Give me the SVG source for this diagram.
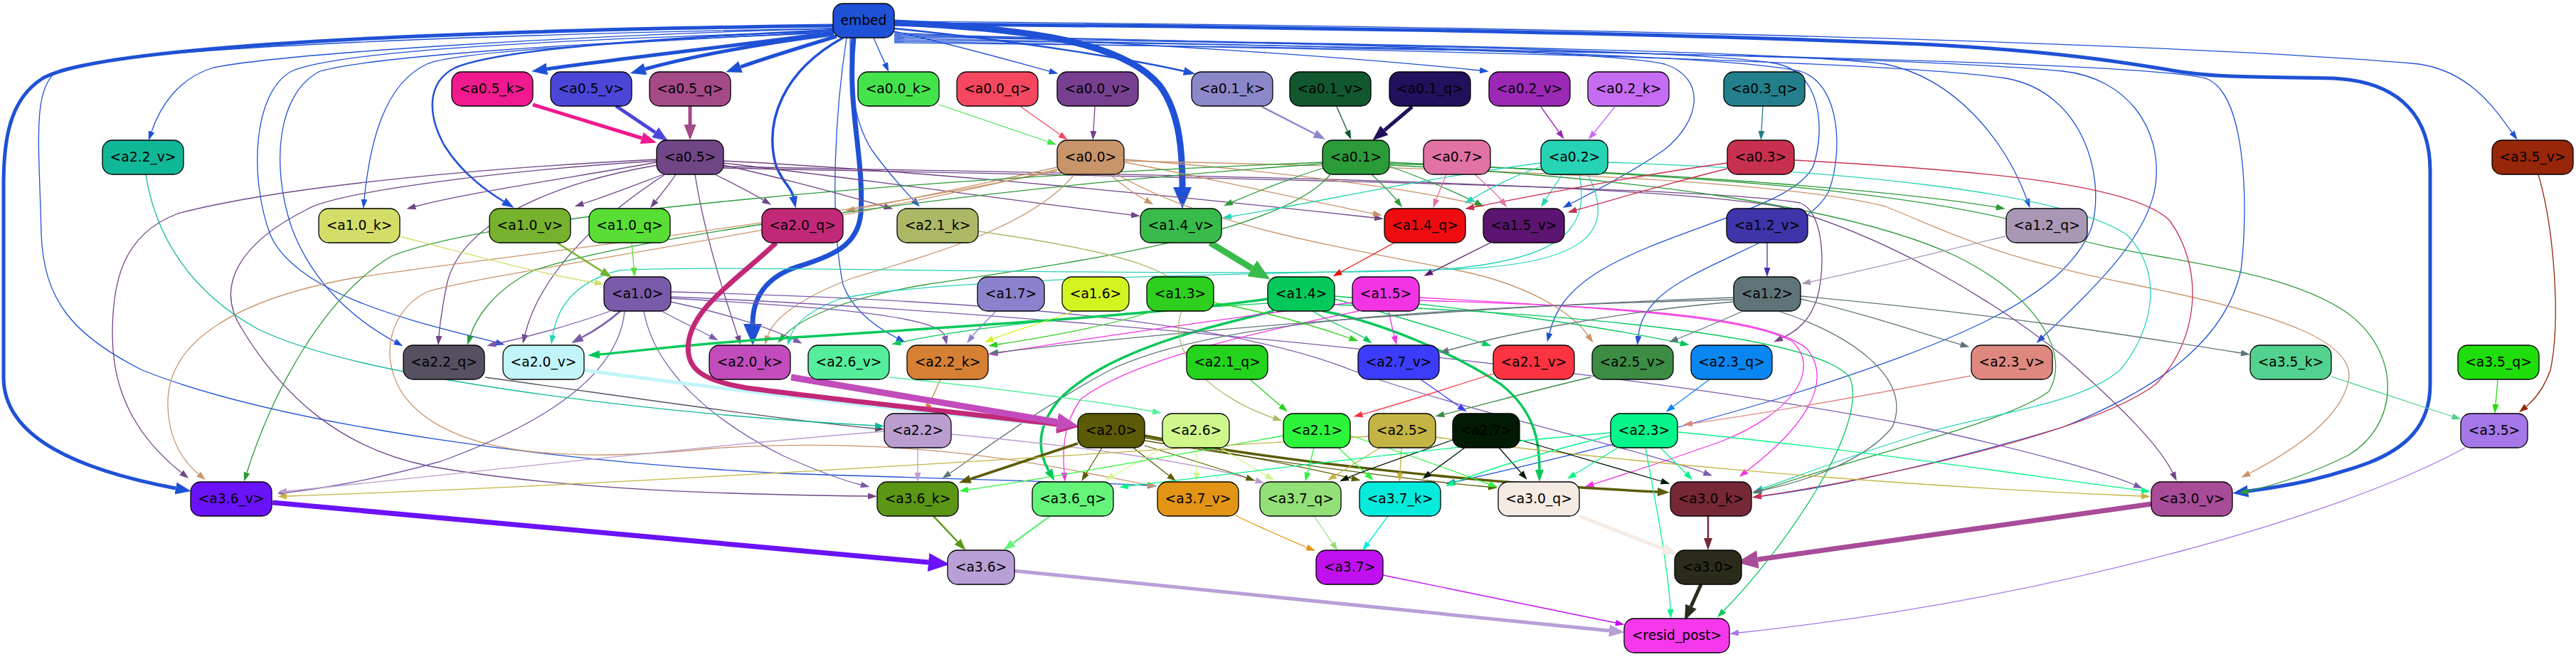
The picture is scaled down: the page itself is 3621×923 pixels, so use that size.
<svg xmlns="http://www.w3.org/2000/svg" xmlns:xlink="http://www.w3.org/1999/xlink" width="3621" height="923" viewBox="0 0 3621 923">
<style>
.nd rect{stroke:#000;stroke-width:1.3}
.nd text{font-family:"DejaVu Sans","Liberation Sans",sans-serif;font-size:18.7px;text-anchor:middle;fill:#000}
#edges path{fill:none}
.w1{stroke-width:1.3}.w2{stroke-width:2.5}.w3{stroke-width:3.5}.w4{stroke-width:5}.w5{stroke-width:7}.w6{stroke-width:9}
.s-emb{stroke:#1f51d6}.s-a05k{stroke:#f0198e}.s-a05v{stroke:#4b46d8}.s-a05q{stroke:#a44a86}.s-a05{stroke:#704686}
.s-a00k{stroke:#44e34c}.s-a00q{stroke:#f5475f}.s-a00v{stroke:#773f90}.s-a00{stroke:#c8946a}
.s-a01k{stroke:#8b87c8}.s-a01v{stroke:#11582e}.s-a01q{stroke:#21105c}.s-a01{stroke:#2b9a38}
.s-a07{stroke:#e072a4}.s-a02v{stroke:#9b29b6}.s-a02k{stroke:#c66cf2}.s-a02{stroke:#27d3b5}
.s-a03q{stroke:#237f8b}.s-a03{stroke:#c7304f}.s-a22v{stroke:#10b898}.s-a35v{stroke:#982609}
.s-a10k{stroke:#d2de68}.s-a10v{stroke:#76b22e}.s-a10q{stroke:#58de35}.s-a20q{stroke:#c22878}
.s-a14v{stroke:#39bb4b}.s-a14q{stroke:#ee0c10}.s-a15v{stroke:#5b1470}.s-a12v{stroke:#4034aa}.s-a12q{stroke:#a898b6}
.s-a10{stroke:#7a5ba9}.s-a17{stroke:#8a82cc}.s-a16{stroke:#d4f420}.s-a13{stroke:#2ecf1e}.s-a14{stroke:#05c85a}
.s-a15{stroke:#f234e4}.s-a12{stroke:#5f7479}.s-a22q{stroke:#575061}.s-a20v{stroke:#c2f5fa}.s-a20k{stroke:#c24cbc}
.s-a26v{stroke:#54ee9c}.s-a22k{stroke:#d68034}.s-a21q{stroke:#24d41c}.s-a27v{stroke:#3c3cfc}.s-a21v{stroke:#fc3442}
.s-a21k{stroke:#adb866}.s-a25v{stroke:#3c8c44}.s-a23q{stroke:#0a86f0}.s-a23v{stroke:#de8880}.s-a35k{stroke:#52d28e}
.s-a35q{stroke:#1fde0c}.s-a22{stroke:#bb9dd0}.s-a20{stroke:#5b5a06}.s-a26{stroke:#cff78c}.s-a21{stroke:#2cf43b}
.s-a25{stroke:#c4b444}.s-a27{stroke:#011a04}.s-a23{stroke:#05f58a}.s-a35{stroke:#a577e8}.s-a36v{stroke:#6a12f8}
.s-a36k{stroke:#5b9614}.s-a36q{stroke:#64f47a}.s-a37v{stroke:#e29414}.s-a37q{stroke:#93e078}.s-a37k{stroke:#05ecdc}
.s-a30q{stroke:#f5ebe3}.s-a30k{stroke:#762836}.s-a30v{stroke:#a84c98}.s-a36{stroke:#b8a0d6}.s-a37{stroke:#c010f0}.s-a30{stroke:#2b2b1c}
</style>
<defs>
<path id="ht" d="M0,0L13,4.5L0,9z"/>
<path id="hm" d="M0,0L17,6L0,12z"/>
<path id="hl" d="M0,0L22,8.5L0,17z"/>
<path id="hx" d="M0,0L30,13L0,26z"/>
<marker id="t-emb" viewBox="0 0 13 9" refY="4.5" markerWidth="13" markerHeight="9" markerUnits="userSpaceOnUse" orient="auto"><use href="#ht" fill="#1f51d6"/></marker>
<marker id="t-a05" viewBox="0 0 13 9" refY="4.5" markerWidth="13" markerHeight="9" markerUnits="userSpaceOnUse" orient="auto"><use href="#ht" fill="#704686"/></marker>
<marker id="t-a10" viewBox="0 0 13 9" refY="4.5" markerWidth="13" markerHeight="9" markerUnits="userSpaceOnUse" orient="auto"><use href="#ht" fill="#7a5ba9"/></marker>
<marker id="t-a00" viewBox="0 0 13 9" refY="4.5" markerWidth="13" markerHeight="9" markerUnits="userSpaceOnUse" orient="auto"><use href="#ht" fill="#c8946a"/></marker>
<marker id="t-a01" viewBox="0 0 13 9" refY="4.5" markerWidth="13" markerHeight="9" markerUnits="userSpaceOnUse" orient="auto"><use href="#ht" fill="#2b9a38"/></marker>
<marker id="t-a02" viewBox="0 0 13 9" refY="4.5" markerWidth="13" markerHeight="9" markerUnits="userSpaceOnUse" orient="auto"><use href="#ht" fill="#27d3b5"/></marker>
<marker id="t-a03" viewBox="0 0 13 9" refY="4.5" markerWidth="13" markerHeight="9" markerUnits="userSpaceOnUse" orient="auto"><use href="#ht" fill="#c7304f"/></marker>
<marker id="t-a07" viewBox="0 0 13 9" refY="4.5" markerWidth="13" markerHeight="9" markerUnits="userSpaceOnUse" orient="auto"><use href="#ht" fill="#e072a4"/></marker>
<marker id="t-a00k" viewBox="0 0 13 9" refY="4.5" markerWidth="13" markerHeight="9" markerUnits="userSpaceOnUse" orient="auto"><use href="#ht" fill="#44e34c"/></marker>
<marker id="t-a00q" viewBox="0 0 13 9" refY="4.5" markerWidth="13" markerHeight="9" markerUnits="userSpaceOnUse" orient="auto"><use href="#ht" fill="#f5475f"/></marker>
<marker id="t-a00v" viewBox="0 0 13 9" refY="4.5" markerWidth="13" markerHeight="9" markerUnits="userSpaceOnUse" orient="auto"><use href="#ht" fill="#773f90"/></marker>
<marker id="t-a01v" viewBox="0 0 13 9" refY="4.5" markerWidth="13" markerHeight="9" markerUnits="userSpaceOnUse" orient="auto"><use href="#ht" fill="#11582e"/></marker>
<marker id="t-a02v" viewBox="0 0 13 9" refY="4.5" markerWidth="13" markerHeight="9" markerUnits="userSpaceOnUse" orient="auto"><use href="#ht" fill="#9b29b6"/></marker>
<marker id="t-a02k" viewBox="0 0 13 9" refY="4.5" markerWidth="13" markerHeight="9" markerUnits="userSpaceOnUse" orient="auto"><use href="#ht" fill="#c66cf2"/></marker>
<marker id="t-a03q" viewBox="0 0 13 9" refY="4.5" markerWidth="13" markerHeight="9" markerUnits="userSpaceOnUse" orient="auto"><use href="#ht" fill="#237f8b"/></marker>
<marker id="t-a10q" viewBox="0 0 13 9" refY="4.5" markerWidth="13" markerHeight="9" markerUnits="userSpaceOnUse" orient="auto"><use href="#ht" fill="#58de35"/></marker>
<marker id="t-a10k" viewBox="0 0 13 9" refY="4.5" markerWidth="13" markerHeight="9" markerUnits="userSpaceOnUse" orient="auto"><use href="#ht" fill="#d2de68"/></marker>
<marker id="t-a14q" viewBox="0 0 13 9" refY="4.5" markerWidth="13" markerHeight="9" markerUnits="userSpaceOnUse" orient="auto"><use href="#ht" fill="#ee0c10"/></marker>
<marker id="t-a15v" viewBox="0 0 13 9" refY="4.5" markerWidth="13" markerHeight="9" markerUnits="userSpaceOnUse" orient="auto"><use href="#ht" fill="#5b1470"/></marker>
<marker id="t-a12v" viewBox="0 0 13 9" refY="4.5" markerWidth="13" markerHeight="9" markerUnits="userSpaceOnUse" orient="auto"><use href="#ht" fill="#4034aa"/></marker>
<marker id="t-a12q" viewBox="0 0 13 9" refY="4.5" markerWidth="13" markerHeight="9" markerUnits="userSpaceOnUse" orient="auto"><use href="#ht" fill="#a898b6"/></marker>
<marker id="t-a14" viewBox="0 0 13 9" refY="4.5" markerWidth="13" markerHeight="9" markerUnits="userSpaceOnUse" orient="auto"><use href="#ht" fill="#05c85a"/></marker>
<marker id="t-a15" viewBox="0 0 13 9" refY="4.5" markerWidth="13" markerHeight="9" markerUnits="userSpaceOnUse" orient="auto"><use href="#ht" fill="#f234e4"/></marker>
<marker id="t-a12" viewBox="0 0 13 9" refY="4.5" markerWidth="13" markerHeight="9" markerUnits="userSpaceOnUse" orient="auto"><use href="#ht" fill="#5f7479"/></marker>
<marker id="t-a17" viewBox="0 0 13 9" refY="4.5" markerWidth="13" markerHeight="9" markerUnits="userSpaceOnUse" orient="auto"><use href="#ht" fill="#8a82cc"/></marker>
<marker id="t-a16" viewBox="0 0 13 9" refY="4.5" markerWidth="13" markerHeight="9" markerUnits="userSpaceOnUse" orient="auto"><use href="#ht" fill="#d4f420"/></marker>
<marker id="t-a13" viewBox="0 0 13 9" refY="4.5" markerWidth="13" markerHeight="9" markerUnits="userSpaceOnUse" orient="auto"><use href="#ht" fill="#2ecf1e"/></marker>
<marker id="t-a22k" viewBox="0 0 13 9" refY="4.5" markerWidth="13" markerHeight="9" markerUnits="userSpaceOnUse" orient="auto"><use href="#ht" fill="#d68034"/></marker>
<marker id="t-a22q" viewBox="0 0 13 9" refY="4.5" markerWidth="13" markerHeight="9" markerUnits="userSpaceOnUse" orient="auto"><use href="#ht" fill="#575061"/></marker>
<marker id="t-a22v" viewBox="0 0 13 9" refY="4.5" markerWidth="13" markerHeight="9" markerUnits="userSpaceOnUse" orient="auto"><use href="#ht" fill="#10b898"/></marker>
<marker id="t-a26v" viewBox="0 0 13 9" refY="4.5" markerWidth="13" markerHeight="9" markerUnits="userSpaceOnUse" orient="auto"><use href="#ht" fill="#54ee9c"/></marker>
<marker id="t-a21q" viewBox="0 0 13 9" refY="4.5" markerWidth="13" markerHeight="9" markerUnits="userSpaceOnUse" orient="auto"><use href="#ht" fill="#24d41c"/></marker>
<marker id="t-a21v" viewBox="0 0 13 9" refY="4.5" markerWidth="13" markerHeight="9" markerUnits="userSpaceOnUse" orient="auto"><use href="#ht" fill="#fc3442"/></marker>
<marker id="t-a21k" viewBox="0 0 13 9" refY="4.5" markerWidth="13" markerHeight="9" markerUnits="userSpaceOnUse" orient="auto"><use href="#ht" fill="#adb866"/></marker>
<marker id="t-a25v" viewBox="0 0 13 9" refY="4.5" markerWidth="13" markerHeight="9" markerUnits="userSpaceOnUse" orient="auto"><use href="#ht" fill="#3c8c44"/></marker>
<marker id="t-a27v" viewBox="0 0 13 9" refY="4.5" markerWidth="13" markerHeight="9" markerUnits="userSpaceOnUse" orient="auto"><use href="#ht" fill="#3c3cfc"/></marker>
<marker id="t-a23q" viewBox="0 0 13 9" refY="4.5" markerWidth="13" markerHeight="9" markerUnits="userSpaceOnUse" orient="auto"><use href="#ht" fill="#0a86f0"/></marker>
<marker id="t-a23v" viewBox="0 0 13 9" refY="4.5" markerWidth="13" markerHeight="9" markerUnits="userSpaceOnUse" orient="auto"><use href="#ht" fill="#de8880"/></marker>
<marker id="t-a35k" viewBox="0 0 13 9" refY="4.5" markerWidth="13" markerHeight="9" markerUnits="userSpaceOnUse" orient="auto"><use href="#ht" fill="#52d28e"/></marker>
<marker id="t-a35q" viewBox="0 0 13 9" refY="4.5" markerWidth="13" markerHeight="9" markerUnits="userSpaceOnUse" orient="auto"><use href="#ht" fill="#1fde0c"/></marker>
<marker id="t-a35v" viewBox="0 0 13 9" refY="4.5" markerWidth="13" markerHeight="9" markerUnits="userSpaceOnUse" orient="auto"><use href="#ht" fill="#982609"/></marker>
<marker id="t-a22" viewBox="0 0 13 9" refY="4.5" markerWidth="13" markerHeight="9" markerUnits="userSpaceOnUse" orient="auto"><use href="#ht" fill="#bb9dd0"/></marker>
<marker id="t-a20" viewBox="0 0 13 9" refY="4.5" markerWidth="13" markerHeight="9" markerUnits="userSpaceOnUse" orient="auto"><use href="#ht" fill="#5b5a06"/></marker>
<marker id="t-a26" viewBox="0 0 13 9" refY="4.5" markerWidth="13" markerHeight="9" markerUnits="userSpaceOnUse" orient="auto"><use href="#ht" fill="#cff78c"/></marker>
<marker id="t-a21" viewBox="0 0 13 9" refY="4.5" markerWidth="13" markerHeight="9" markerUnits="userSpaceOnUse" orient="auto"><use href="#ht" fill="#2cf43b"/></marker>
<marker id="t-a25" viewBox="0 0 13 9" refY="4.5" markerWidth="13" markerHeight="9" markerUnits="userSpaceOnUse" orient="auto"><use href="#ht" fill="#c4b444"/></marker>
<marker id="t-a27" viewBox="0 0 13 9" refY="4.5" markerWidth="13" markerHeight="9" markerUnits="userSpaceOnUse" orient="auto"><use href="#ht" fill="#011a04"/></marker>
<marker id="t-a23" viewBox="0 0 13 9" refY="4.5" markerWidth="13" markerHeight="9" markerUnits="userSpaceOnUse" orient="auto"><use href="#ht" fill="#05f58a"/></marker>
<marker id="t-a37v" viewBox="0 0 13 9" refY="4.5" markerWidth="13" markerHeight="9" markerUnits="userSpaceOnUse" orient="auto"><use href="#ht" fill="#e29414"/></marker>
<marker id="t-a37q" viewBox="0 0 13 9" refY="4.5" markerWidth="13" markerHeight="9" markerUnits="userSpaceOnUse" orient="auto"><use href="#ht" fill="#93e078"/></marker>
<marker id="t-a37k" viewBox="0 0 13 9" refY="4.5" markerWidth="13" markerHeight="9" markerUnits="userSpaceOnUse" orient="auto"><use href="#ht" fill="#05ecdc"/></marker>
<marker id="t-a37" viewBox="0 0 13 9" refY="4.5" markerWidth="13" markerHeight="9" markerUnits="userSpaceOnUse" orient="auto"><use href="#ht" fill="#c010f0"/></marker>
<marker id="t-a35" viewBox="0 0 13 9" refY="4.5" markerWidth="13" markerHeight="9" markerUnits="userSpaceOnUse" orient="auto"><use href="#ht" fill="#a577e8"/></marker>
<marker id="m-emb" viewBox="0 0 17 12" refY="6" markerWidth="17" markerHeight="12" markerUnits="userSpaceOnUse" orient="auto"><use href="#hm" fill="#1f51d6"/></marker>
<marker id="m-a01k" viewBox="0 0 17 12" refY="6" markerWidth="17" markerHeight="12" markerUnits="userSpaceOnUse" orient="auto"><use href="#hm" fill="#8b87c8"/></marker>
<marker id="m-a10" viewBox="0 0 17 12" refY="6" markerWidth="17" markerHeight="12" markerUnits="userSpaceOnUse" orient="auto"><use href="#hm" fill="#7a5ba9"/></marker>
<marker id="m-a10v" viewBox="0 0 17 12" refY="6" markerWidth="17" markerHeight="12" markerUnits="userSpaceOnUse" orient="auto"><use href="#hm" fill="#76b22e"/></marker>
<marker id="m-a14" viewBox="0 0 17 12" refY="6" markerWidth="17" markerHeight="12" markerUnits="userSpaceOnUse" orient="auto"><use href="#hm" fill="#05c85a"/></marker>
<marker id="m-a20" viewBox="0 0 17 12" refY="6" markerWidth="17" markerHeight="12" markerUnits="userSpaceOnUse" orient="auto"><use href="#hm" fill="#5b5a06"/></marker>
<marker id="m-a36k" viewBox="0 0 17 12" refY="6" markerWidth="17" markerHeight="12" markerUnits="userSpaceOnUse" orient="auto"><use href="#hm" fill="#5b9614"/></marker>
<marker id="m-a36q" viewBox="0 0 17 12" refY="6" markerWidth="17" markerHeight="12" markerUnits="userSpaceOnUse" orient="auto"><use href="#hm" fill="#64f47a"/></marker>
<marker id="m-a30k" viewBox="0 0 17 12" refY="6" markerWidth="17" markerHeight="12" markerUnits="userSpaceOnUse" orient="auto"><use href="#hm" fill="#762836"/></marker>
<marker id="l-emb" viewBox="0 0 22 17" refY="8.5" markerWidth="22" markerHeight="17" markerUnits="userSpaceOnUse" orient="auto"><use href="#hl" fill="#1f51d6"/></marker>
<marker id="l-a05k" viewBox="0 0 22 17" refY="8.5" markerWidth="22" markerHeight="17" markerUnits="userSpaceOnUse" orient="auto"><use href="#hl" fill="#f0198e"/></marker>
<marker id="l-a05v" viewBox="0 0 22 17" refY="8.5" markerWidth="22" markerHeight="17" markerUnits="userSpaceOnUse" orient="auto"><use href="#hl" fill="#4b46d8"/></marker>
<marker id="l-a05q" viewBox="0 0 22 17" refY="8.5" markerWidth="22" markerHeight="17" markerUnits="userSpaceOnUse" orient="auto"><use href="#hl" fill="#a44a86"/></marker>
<marker id="l-a01q" viewBox="0 0 22 17" refY="8.5" markerWidth="22" markerHeight="17" markerUnits="userSpaceOnUse" orient="auto"><use href="#hl" fill="#21105c"/></marker>
<marker id="l-a20v" viewBox="0 0 22 17" refY="8.5" markerWidth="22" markerHeight="17" markerUnits="userSpaceOnUse" orient="auto"><use href="#hl" fill="#c2f5fa"/></marker>
<marker id="l-a30q" viewBox="0 0 22 17" refY="8.5" markerWidth="22" markerHeight="17" markerUnits="userSpaceOnUse" orient="auto"><use href="#hl" fill="#f5ebe3"/></marker>
<marker id="l-a36" viewBox="0 0 22 17" refY="8.5" markerWidth="22" markerHeight="17" markerUnits="userSpaceOnUse" orient="auto"><use href="#hl" fill="#b8a0d6"/></marker>
<marker id="l-a30" viewBox="0 0 22 17" refY="8.5" markerWidth="22" markerHeight="17" markerUnits="userSpaceOnUse" orient="auto"><use href="#hl" fill="#2b2b1c"/></marker>
<marker id="x-emb" viewBox="0 0 30 26" refY="13" markerWidth="30" markerHeight="26" markerUnits="userSpaceOnUse" orient="auto"><use href="#hx" fill="#1f51d6"/></marker>
<marker id="x-a14v" viewBox="0 0 30 26" refY="13" markerWidth="30" markerHeight="26" markerUnits="userSpaceOnUse" orient="auto"><use href="#hx" fill="#39bb4b"/></marker>
<marker id="x-a20k" viewBox="0 0 30 26" refY="13" markerWidth="30" markerHeight="26" markerUnits="userSpaceOnUse" orient="auto"><use href="#hx" fill="#c24cbc"/></marker>
<marker id="x-a20q" viewBox="0 0 30 26" refY="13" markerWidth="30" markerHeight="26" markerUnits="userSpaceOnUse" orient="auto"><use href="#hx" fill="#c22878"/></marker>
<marker id="x-a36v" viewBox="0 0 30 26" refY="13" markerWidth="30" markerHeight="26" markerUnits="userSpaceOnUse" orient="auto"><use href="#hx" fill="#6a12f8"/></marker>
<marker id="x-a30v" viewBox="0 0 30 26" refY="13" markerWidth="30" markerHeight="26" markerUnits="userSpaceOnUse" orient="auto"><use href="#hx" fill="#a84c98"/></marker>
</defs>
<rect width="3621" height="923" fill="#fff"/>
<g id="edges">
<path class="s-emb w4" marker-end="url(#l-emb)" d="M1171,36 C700,42 150,60 60,110 C12,140 5,200 5,260 L5,530 C5,615 110,660 247,686"/>
<path class="s-emb w4" marker-end="url(#l-emb)" d="M1257,34 C1700,36 2300,45 2700,62 C2900,72 3000,90 3060,100 C3120,110 3200,108 3280,110 C3380,115 3416,170 3416,240 L3416,540 C3416,600 3380,630 3330,650 C3270,672 3220,682 3160,690"/>
<path class="s-emb w4" marker-end="url(#l-emb)" d="M1172,46 C1000,68 850,85 769,97"/>
<path class="s-emb w4" marker-end="url(#l-emb)" d="M1172,48 C1060,62 960,82 907,97"/>
<path class="s-emb w4" marker-end="url(#l-emb)" d="M1176,51 C1120,68 1075,82 1041,94"/>
<path class="s-emb w3" marker-end="url(#m-emb)" d="M1185,53 C1100,100 1075,170 1090,230 C1098,255 1112,262 1115,276"/>
<path class="s-emb w5" marker-end="url(#x-emb)" d="M1200,53 C1190,150 1215,220 1210,300 C1206,345 1170,360 1120,375 C1075,390 1058,420 1058,455"/>
<path class="s-emb w6" marker-end="url(#x-emb)" d="M1257,32 C1450,40 1580,60 1630,120 C1660,160 1662,220 1662,263"/>
<path class="s-emb w2" marker-end="url(#m-emb)" d="M1257,40 C1450,60 1600,85 1664,100"/>
<path class="s-emb w2" marker-end="url(#m-emb)" d="M1171,42 C900,55 700,70 640,95 C600,115 600,160 625,205 C650,245 690,272 708,283"/>
<path class="s-emb w1" marker-end="url(#t-emb)" d="M1171,44 C900,60 650,70 600,90 C540,118 520,200 512,280"/>
<path class="s-emb w1" marker-end="url(#t-emb)" d="M1171,40 C800,50 400,75 300,95 C250,110 225,150 213,185"/>
<path class="s-emb w1" marker-end="url(#t-emb)" d="M1228,53 C1235,70 1240,80 1244,89"/>
<path class="s-emb w1" marker-end="url(#t-emb)" d="M1257,44 C1350,65 1420,85 1475,100"/>
<path class="s-emb w1" marker-end="url(#t-emb)" d="M1257,46 C1600,60 1900,80 2080,99"/>
<path class="s-emb w1" marker-end="url(#t-emb)" d="M1257,48 C1800,60 2250,70 2340,90 C2400,110 2390,170 2340,210 C2290,245 2235,272 2208,286"/>
<path class="s-emb w1" marker-end="url(#t-emb)" d="M1257,50 C1800,60 2500,70 2650,90 C2750,110 2820,200 2849,280"/>
<path class="s-emb w1" marker-end="url(#t-emb)" d="M1257,30 C2000,35 3000,55 3400,90 C3470,100 3505,150 3531,186"/>
<path class="s-emb w1" marker-end="url(#t-emb)" d="M1171,46 C800,60 520,80 450,100 C390,130 380,230 410,320 C440,400 500,450 555,480"/>
<path class="s-emb w1" marker-end="url(#t-emb)" d="M1171,44 C800,55 480,70 410,100 C355,130 350,250 380,330 C420,420 610,458 697,481"/>
<path class="s-emb w1" marker-end="url(#t-emb)" d="M1171,40 C600,50 150,70 80,100 C45,125 55,200 58,330 C62,420 100,470 200,520 C400,600 800,650 1100,665 C1400,675 1550,678 1613,682"/>
<path class="s-emb w1" marker-end="url(#t-emb)" d="M1195,53 C1195,120 1200,170 1225,210 C1250,245 1272,268 1284,281"/>
<path class="s-emb w1" marker-end="url(#t-emb)" d="M1190,53 C1175,150 1165,300 1185,400 C1200,440 1238,463 1261,475"/>
<path class="s-emb w1" marker-end="url(#t-emb)" d="M1257,52 C1900,62 2400,70 2500,90 C2560,105 2565,180 2550,230 C2530,290 2350,320 2250,380 C2200,410 2185,440 2178,468"/>
<path class="s-emb w1" marker-end="url(#t-emb)" d="M1257,54 C1900,65 2420,75 2530,100 C2590,118 2590,220 2570,270 C2540,330 2380,370 2330,420 C2310,440 2305,455 2303,472"/>
<path class="s-emb w1" marker-end="url(#t-emb)" d="M1257,56 C2000,66 2700,80 2900,100 C2990,110 3040,180 3030,260 C3020,330 2950,400 2872,473"/>
<path class="s-emb w1" marker-end="url(#t-emb)" d="M1257,58 C2000,70 2650,85 2820,110 C2930,130 2960,250 2940,320 C2900,420 2750,480 2500,560 C2300,620 2120,660 2045,677"/>
<path class="s-emb w1" marker-end="url(#t-emb)" d="M1257,60 C2200,70 3000,85 3100,110 C3160,130 3160,300 3150,380 C3130,470 3050,540 2900,600 C2700,660 2550,688 2476,697"/>
<path class="s-a05k w4" marker-end="url(#l-a05k)" d="M749,147 L902,194"/>
<path class="s-a05v w4" marker-end="url(#l-a05v)" d="M866,149 L921,186"/>
<path class="s-a05q w4" marker-end="url(#l-a05q)" d="M970,149 L970,175"/>
<path class="s-a00k w1" marker-end="url(#t-a00k)" d="M1320,147 L1473,199"/>
<path class="s-a00q w1" marker-end="url(#t-a00q)" d="M1435,150 L1490,189"/>
<path class="s-a00v w1" marker-end="url(#t-a00v)" d="M1539,150 L1537,184"/>
<path class="s-a01k w2" marker-end="url(#m-a01k)" d="M1774,150 L1848,188"/>
<path class="s-a01v w1" marker-end="url(#t-a01v)" d="M1879,150 L1894,184"/>
<path class="s-a01q w4" marker-end="url(#l-a01q)" d="M1985,150 L1946,183"/>
<path class="s-a02v w1" marker-end="url(#t-a02v)" d="M2166,150 L2191,185"/>
<path class="s-a02k w1" marker-end="url(#t-a02k)" d="M2270,150 L2241,186"/>
<path class="s-a03q w1" marker-end="url(#t-a03q)" d="M2478,149 L2476,184"/>
<path class="s-a05 w1" marker-end="url(#t-a05)" d="M923,228 C800,250 650,272 584,290"/>
<path class="s-a05 w1" marker-end="url(#t-a05)" d="M935,244 C880,265 845,278 820,286"/>
<path class="s-a05 w1" marker-end="url(#t-a05)" d="M950,245 C940,260 930,272 922,282"/>
<path class="s-a05 w1" marker-end="url(#t-a05)" d="M1005,245 C1035,260 1060,273 1073,281"/>
<path class="s-a05 w1" marker-end="url(#t-a05)" d="M1017,232 C1100,250 1190,275 1243,290"/>
<path class="s-a05 w1" marker-end="url(#t-a05)" d="M1017,229 C1200,250 1450,285 1590,302"/>
<path class="s-a05 w1" marker-end="url(#t-a05)" d="M1017,226 C1300,240 1700,280 1932,306"/>
<path class="s-a05 w1" marker-end="url(#t-a05)" d="M924,232 C760,260 645,320 628,400 C620,440 618,460 617,472"/>
<path class="s-a05 w1" marker-end="url(#t-a05)" d="M923,224 C700,235 400,260 250,300 C170,330 158,400 158,470 C158,560 200,620 255,664"/>
<path class="s-a05 w1" marker-end="url(#t-a05)" d="M923,226 C700,240 470,270 430,295 C340,340 300,400 340,462 C400,560 480,630 604,655 C800,690 1050,695 1220,697"/>
<path class="s-a05 w1" marker-end="url(#t-a05)" d="M977,245 C990,330 1020,420 1037,472"/>
<path class="s-a05 w1" marker-end="url(#t-a05)" d="M1017,234 C1600,245 2300,255 2500,290 C2650,330 2800,420 2900,500 C2980,570 3035,625 3054,664"/>
<path class="s-a05 w1" marker-end="url(#t-a05)" d="M1017,236 C1700,250 2400,262 2530,285 C2570,300 2565,400 2550,430 C2540,455 2520,468 2505,475"/>
<path class="s-a05 w1" marker-end="url(#t-a05)" d="M935,245 C850,300 760,380 738,470"/>
<path class="s-a00 w1" marker-end="url(#t-a00)" d="M1486,235 C1350,265 1255,285 1201,294"/>
<path class="s-a00 w1" marker-end="url(#t-a00)" d="M1560,245 C1580,262 1598,274 1610,281"/>
<path class="s-a00 w1" marker-end="url(#t-a00)" d="M1581,228 C1700,250 1850,285 1930,300"/>
<path class="s-a00 w1" marker-end="url(#t-a00)" d="M1581,224 C1800,240 2000,268 2074,287"/>
<path class="s-a00 w1" marker-end="url(#t-a00)" d="M1510,245 C1450,320 1300,360 1200,390 C1120,420 1086,450 1079,472"/>
<path class="s-a00 w1" marker-end="url(#t-a00)" d="M1570,245 C1700,320 1900,350 2050,380 C2150,400 2210,440 2232,471"/>
<path class="s-a00 w1" marker-end="url(#t-a00)" d="M1486,240 C1100,320 700,360 500,390 C330,420 240,480 236,560 C234,620 262,652 279,666"/>
<path class="s-a00 w1" marker-end="url(#t-a00)" d="M1486,238 C1100,330 700,380 600,410 C540,440 530,520 580,570 C650,640 800,650 1000,630 C1300,610 1500,660 1613,681"/>
<path class="s-a00 w1" marker-end="url(#t-a00)" d="M1581,226 C2000,235 2500,250 2650,290 C2750,330 2800,360 3000,400 C3200,440 3320,480 3300,540 C3285,595 3210,640 3162,665"/>
<path class="s-a01 w1" marker-end="url(#t-a01)" d="M1860,236 C1800,255 1758,273 1732,284"/>
<path class="s-a01 w1" marker-end="url(#t-a01)" d="M1928,245 C1944,260 1956,272 1963,281"/>
<path class="s-a01 w1" marker-end="url(#t-a01)" d="M1954,234 C2000,250 2050,272 2074,284"/>
<path class="s-a01 w1" marker-end="url(#t-a01)" d="M1954,230 C2300,240 2650,265 2806,291"/>
<path class="s-a01 w1" marker-end="url(#t-a01)" d="M1860,230 C1400,262 900,330 750,380 C690,410 668,450 661,472"/>
<path class="s-a01 w1" marker-end="url(#t-a01)" d="M1860,228 C1300,250 700,300 550,360 C450,420 380,560 347,664"/>
<path class="s-a01 w1" marker-end="url(#t-a01)" d="M1870,245 C1800,330 1500,370 1300,400 C1180,420 1122,450 1102,472"/>
<path class="s-a01 w1" marker-end="url(#t-a01)" d="M1954,228 C2300,245 2700,260 2900,330 C3000,365 3200,370 3300,440 C3380,500 3370,600 3300,640 C3240,670 3190,683 3160,690"/>
<path class="s-a01 w1" marker-end="url(#t-a01)" d="M1954,232 C2300,250 2600,290 2750,360 C2870,420 2910,500 2880,550 C2820,595 2600,645 2476,689"/>
<path class="s-a02 w1" marker-end="url(#t-a02)" d="M2196,245 C2186,260 2178,272 2173,280"/>
<path class="s-a02 w1" marker-end="url(#t-a02)" d="M2166,234 C2120,250 2088,268 2070,279"/>
<path class="s-a02 w1" marker-end="url(#t-a02)" d="M2166,229 C2000,250 1850,285 1731,304"/>
<path class="s-a02 w1" marker-end="url(#t-a02)" d="M2220,245 C2235,320 2200,370 2000,380 C1600,390 1000,370 870,380 C800,398 782,440 777,471"/>
<path class="s-a02 w1" marker-end="url(#t-a02)" d="M2232,245 C2270,320 2240,370 2050,378 C1700,386 1300,392 1180,420 C1130,440 1116,458 1111,473"/>
<path class="s-a02 w1" marker-end="url(#t-a02)" d="M2260,228 C2600,240 2900,270 2990,330 C3040,380 3030,460 2980,520 C2920,570 2800,580 2700,610 C2600,640 2520,672 2478,686"/>
<path class="s-a03 w1" marker-end="url(#t-a03)" d="M2428,229 C2300,246 2150,276 2072,291"/>
<path class="s-a03 w1" marker-end="url(#t-a03)" d="M2428,237 C2350,256 2270,280 2216,295"/>
<path class="s-a03 w1" marker-end="url(#t-a03)" d="M2522,225 C2800,240 3000,260 3050,310 C3100,380 3090,480 3030,540 C2950,600 2700,662 2476,697"/>
<path class="s-a07 w1" marker-end="url(#t-a07)" d="M2033,245 C2027,260 2022,272 2019,280"/>
<path class="s-a07 w1" marker-end="url(#t-a07)" d="M2073,245 C2090,260 2103,272 2110,281"/>
<path class="s-a10v w2" marker-end="url(#m-a10v)" d="M783,341 L846,381"/>
<path class="s-a10q w1" marker-end="url(#t-a10q)" d="M888,341 L891,376"/>
<path class="s-a10k w1" marker-end="url(#t-a10k)" d="M562,332 C650,355 760,385 836,397"/>
<path class="s-a14v w6" marker-end="url(#x-a14v)" d="M1701,341 L1760,377"/>
<path class="s-a14q w1" marker-end="url(#t-a14q)" d="M1960,341 L1885,382"/>
<path class="s-a15v w1" marker-end="url(#t-a15v)" d="M2095,341 L2013,382"/>
<path class="s-a12v w1" marker-end="url(#t-a12v)" d="M2484,341 L2484,376"/>
<path class="s-a12q w1" marker-end="url(#t-a12q)" d="M2819,332 C2700,360 2600,385 2545,396"/>
<path class="s-a10 w1" marker-end="url(#t-a10)" d="M858,437 C800,458 735,475 697,483"/>
<path class="s-a10 w2" marker-end="url(#m-a10)" d="M872,437 C855,452 835,465 818,474"/>
<path class="s-a10 w1" marker-end="url(#t-a10)" d="M930,437 C960,453 985,465 998,472"/>
<path class="s-a10 w1" marker-end="url(#t-a10)" d="M943,424 C1020,440 1085,462 1116,477"/>
<path class="s-a10 w1" marker-end="url(#t-a10)" d="M943,419 C1100,428 1320,440 1328,472"/>
<path class="s-a10 w1" marker-end="url(#t-a10)" d="M878,437 C870,520 780,590 620,648 C520,676 440,688 403,692"/>
<path class="s-a10 w1" marker-end="url(#t-a10)" d="M905,437 C920,520 1000,590 1100,640 C1150,662 1185,675 1210,681"/>
<path class="s-a10 w1" marker-end="url(#t-a10)" d="M943,410 C1300,420 1700,440 1900,520 C2050,575 2300,630 2395,664"/>
<path class="s-a10 w1" marker-end="url(#t-a10)" d="M943,417 C1500,440 2300,520 2700,600 C2880,640 2970,668 3000,681"/>
<path class="s-a14 w3" marker-end="url(#m-a14)" d="M1782,420 C1600,445 1300,462 1100,475 C950,485 880,495 843,498"/>
<path class="s-a14 w3" marker-end="url(#m-a14)" d="M1790,437 C1700,460 1560,490 1490,560 C1452,605 1462,640 1474,661"/>
<path class="s-a14 w3" marker-end="url(#m-a14)" d="M1860,437 C1950,455 2050,500 2110,540 C2160,580 2164,625 2164,660"/>
<path class="s-a14 w1" marker-end="url(#t-a14)" d="M1782,426 C1550,440 1360,460 1266,481"/>
<path class="s-a14 w1" marker-end="url(#t-a14)" d="M1845,437 C1868,452 1905,466 1918,475"/>
<path class="s-a14 w1" marker-end="url(#t-a14)" d="M1876,420 C1950,440 2040,468 2084,482"/>
<path class="s-a14 w1" marker-end="url(#t-a14)" d="M1876,416 C2050,430 2250,458 2362,482"/>
<path class="s-a14 w1" marker-end="url(#t-a14)" d="M1876,428 C2200,440 2550,470 2600,530 C2630,600 2500,780 2423,858"/>
<path class="s-a15 w1" marker-end="url(#t-a15)" d="M1952,437 C1955,452 1958,464 1960,472"/>
<path class="s-a15 w1" marker-end="url(#t-a15)" d="M1901,425 C1700,450 1500,480 1402,496"/>
<path class="s-a15 w1" marker-end="url(#t-a15)" d="M1910,437 C1800,460 1600,500 1520,560 C1492,598 1494,640 1496,664"/>
<path class="s-a15 w1" marker-end="url(#t-a15)" d="M1995,418 C2200,430 2450,440 2520,480 C2560,520 2520,580 2420,620 C2330,652 2272,670 2240,680"/>
<path class="s-a15 w1" marker-end="url(#t-a15)" d="M1995,422 C2250,430 2480,440 2540,490 C2580,540 2530,605 2455,662"/>
<path class="s-a12 w1" marker-end="url(#t-a12)" d="M2436,418 C2100,430 1700,460 1403,495"/>
<path class="s-a12 w1" marker-end="url(#t-a12)" d="M2436,421 C2000,432 1700,452 1560,520 C1450,580 1372,640 1335,665"/>
<path class="s-a12 w1" marker-end="url(#t-a12)" d="M2436,424 C2250,440 2100,474 2036,492"/>
<path class="s-a12 w1" marker-end="url(#t-a12)" d="M2450,437 C2410,455 2378,468 2358,476"/>
<path class="s-a12 w1" marker-end="url(#t-a12)" d="M2531,420 C2620,440 2700,468 2756,484"/>
<path class="s-a12 w1" marker-end="url(#t-a12)" d="M2531,416 C2800,440 3000,472 3150,496"/>
<path class="s-a12 w1" marker-end="url(#t-a12)" d="M2500,437 C2600,470 2690,530 2660,600 C2620,650 2530,678 2476,689"/>
<path class="s-a17 w1" marker-end="url(#t-a17)" d="M1400,437 C1386,452 1374,463 1367,472"/>
<path class="s-a16 w1" marker-end="url(#t-a16)" d="M1510,437 C1460,455 1415,468 1396,476"/>
<path class="s-a13 w1" marker-end="url(#t-a13)" d="M1620,437 C1560,458 1460,475 1402,484"/>
<path class="s-a13 w1" marker-end="url(#t-a13)" d="M1706,425 C1790,440 1860,462 1897,475"/>
<path class="s-a22k w1" marker-end="url(#t-a22k)" d="M1322,533 L1306,568"/>
<path class="s-a20v w4" marker-end="url(#l-a20v)" d="M821,520 C1000,545 1300,580 1486,597"/>
<path class="s-a22q w1" marker-end="url(#t-a22q)" d="M682,530 C900,560 1100,590 1230,602"/>
<path class="s-a22v w1" marker-end="url(#t-a22v)" d="M205,245 C215,310 250,400 362,462 C500,530 900,580 1230,598"/>
<path class="s-a20q w5" marker-end="url(#x-a20q)" d="M1091,341 C1040,390 975,430 968,480 C962,520 990,535 1050,545 C1200,565 1400,585 1486,596"/>
<path class="s-a20k w6" marker-end="url(#x-a20k)" d="M1112,530 C1250,553 1400,578 1486,593"/>
<path class="s-a26v w1" marker-end="url(#t-a26v)" d="M1250,530 C1400,545 1550,565 1620,578"/>
<path class="s-a21q w1" marker-end="url(#t-a21q)" d="M1757,533 L1800,570"/>
<path class="s-a21v w1" marker-end="url(#t-a21v)" d="M2099,525 C2020,550 1960,570 1915,582"/>
<path class="s-a21k w1" marker-end="url(#t-a21k)" d="M1376,325 C1550,350 1700,380 1660,440 C1640,500 1710,560 1790,587"/>
<path class="s-a25v w1" marker-end="url(#t-a25v)" d="M2236,530 C2150,550 2080,570 2030,582"/>
<path class="s-a27v w1" marker-end="url(#t-a27v)" d="M1997,533 L2051,571"/>
<path class="s-a23q w1" marker-end="url(#t-a23q)" d="M2403,533 L2352,571"/>
<path class="s-a23v w1" marker-end="url(#t-a23v)" d="M2770,528 C2600,560 2450,585 2379,595"/>
<path class="s-a35k w1" marker-end="url(#t-a35k)" d="M3277,529 L3447,585"/>
<path class="s-a35q w1" marker-end="url(#t-a35q)" d="M3511,533 L3508,568"/>
<path class="s-a35v w1" marker-end="url(#t-a35v)" d="M3568,245 C3590,320 3600,450 3585,520 C3575,548 3562,562 3551,571"/>
<path class="s-a22 w1" marker-end="url(#t-a22)" d="M1290,629 L1290,664"/>
<path class="s-a22 w1" marker-end="url(#t-a22)" d="M1243,606 C1000,625 700,660 403,690"/>
<path class="s-a22 w1" marker-end="url(#t-a22)" d="M1337,610 C1500,625 1680,648 1765,675"/>
<path class="s-a20 w3" marker-end="url(#m-a20)" d="M1515,623 L1364,673"/>
<path class="s-a20 w1" marker-end="url(#t-a20)" d="M1549,629 L1527,665"/>
<path class="s-a20 w1" marker-end="url(#t-a20)" d="M1593,629 L1643,668"/>
<path class="s-a20 w1" marker-end="url(#t-a20)" d="M1609,626 C1680,648 1730,663 1752,671"/>
<path class="s-a20 w3" marker-end="url(#m-a20)" d="M1609,612 C1800,650 2100,680 2330,691"/>
<path class="s-a20 w1" marker-end="url(#t-a20)" d="M1609,619 C1800,650 1960,672 2092,684"/>
<path class="s-a20 w1" marker-end="url(#t-a20)" d="M1609,615 C1750,640 1850,660 1900,672"/>
<path class="s-a26 w1" marker-end="url(#t-a26)" d="M1682,629 L1682,664"/>
<path class="s-a26 w1" marker-end="url(#t-a26)" d="M1635,629 L1565,668"/>
<path class="s-a26 w1" marker-end="url(#t-a26)" d="M1715,629 L1780,668"/>
<path class="s-a21 w1" marker-end="url(#t-a21)" d="M1847,629 L1838,664"/>
<path class="s-a21 w1" marker-end="url(#t-a21)" d="M1881,629 L1921,666"/>
<path class="s-a21 w1" marker-end="url(#t-a21)" d="M1804,612 C1650,640 1450,675 1361,688"/>
<path class="s-a21 w1" marker-end="url(#t-a21)" d="M1898,612 C1980,638 2048,664 2093,680"/>
<path class="s-a25 w1" marker-end="url(#t-a25)" d="M1970,629 L1968,664"/>
<path class="s-a25 w1" marker-end="url(#t-a25)" d="M1940,629 L1877,668"/>
<path class="s-a25 w1" marker-end="url(#t-a25)" d="M1924,613 C1500,640 900,680 403,697"/>
<path class="s-a25 w1" marker-end="url(#t-a25)" d="M2018,614 C2200,640 2600,680 3010,697"/>
<path class="s-a27 w1" marker-end="url(#t-a27)" d="M2059,629 L2010,665"/>
<path class="s-a27 w1" marker-end="url(#t-a27)" d="M2107,629 L2138,664"/>
<path class="s-a27 w1" marker-end="url(#t-a27)" d="M2136,618 L2335,676"/>
<path class="s-a27 w1" marker-end="url(#t-a27)" d="M2042,618 C1980,640 1920,660 1895,671"/>
<path class="s-a23 w1" marker-end="url(#t-a23)" d="M2334,629 L2370,665"/>
<path class="s-a23 w1" marker-end="url(#t-a23)" d="M2274,629 L2214,666"/>
<path class="s-a23 w1" marker-end="url(#t-a23)" d="M2264,612 C2150,640 2080,664 2044,678"/>
<path class="s-a23 w1" marker-end="url(#t-a23)" d="M2264,608 C2000,630 1750,664 1586,683"/>
<path class="s-a23 w1" marker-end="url(#t-a23)" d="M2313,629 C2330,720 2345,800 2348,856"/>
<path class="s-a23 w1" marker-end="url(#t-a23)" d="M2358,607 C2600,630 2850,668 3010,689"/>
<path class="s-a36v w5" marker-end="url(#x-a36v)" d="M383,706 L1305,790"/>
<path class="s-a36k w2" marker-end="url(#m-a36k)" d="M1312,725 L1346,761"/>
<path class="s-a36q w2" marker-end="url(#m-a36q)" d="M1476,725 L1424,763"/>
<path class="s-a37v w1" marker-end="url(#t-a37v)" d="M1736,724 C1780,745 1818,761 1837,769"/>
<path class="s-a37q w1" marker-end="url(#t-a37q)" d="M1847,725 L1873,763"/>
<path class="s-a37k w1" marker-end="url(#t-a37k)" d="M1951,725 L1923,763"/>
<path class="s-a30q w4" marker-end="url(#l-a30q)" d="M2220,725 L2338,771"/>
<path class="s-a30k w2" marker-end="url(#m-a30k)" d="M2401,725 L2401,756"/>
<path class="s-a30v w5" marker-end="url(#x-a30v)" d="M3024,708 L2471,786"/>
<path class="s-a36 w4" marker-end="url(#l-a36)" d="M1426,802 L2262,886"/>
<path class="s-a37 w1" marker-end="url(#t-a37)" d="M1944,808 L2271,875"/>
<path class="s-a30 w4" marker-end="url(#l-a30)" d="M2391,821 L2377,852"/>
<path class="s-a35 w1" marker-end="url(#t-a35)" d="M3465,629 C3300,720 2900,840 2444,889"/>
</g>
<g id="nodes">
<g id="n-embed" class="nd"><rect x="1171" y="5" width="86" height="48" rx="14" fill="#1f51d6"/><text x="1214" y="35">embed</text></g>
<g id="n-a0_5_k" class="nd"><rect x="635" y="101" width="114" height="48" rx="14" fill="#f0198e"/><text x="692" y="131">&lt;a0.5_k&gt;</text></g>
<g id="n-a0_5_v" class="nd"><rect x="774" y="101" width="114" height="48" rx="14" fill="#4b46d8"/><text x="831" y="131">&lt;a0.5_v&gt;</text></g>
<g id="n-a0_5_q" class="nd"><rect x="913" y="101" width="114" height="48" rx="14" fill="#a44a86"/><text x="970" y="131">&lt;a0.5_q&gt;</text></g>
<g id="n-a0_0_k" class="nd"><rect x="1206" y="101" width="114" height="48" rx="14" fill="#44e34c"/><text x="1263" y="131">&lt;a0.0_k&gt;</text></g>
<g id="n-a0_0_q" class="nd"><rect x="1345" y="101" width="114" height="48" rx="14" fill="#f5475f"/><text x="1402" y="131">&lt;a0.0_q&gt;</text></g>
<g id="n-a0_0_v" class="nd"><rect x="1486" y="101" width="114" height="48" rx="14" fill="#773f90"/><text x="1543" y="131">&lt;a0.0_v&gt;</text></g>
<g id="n-a0_1_k" class="nd"><rect x="1675" y="101" width="114" height="48" rx="14" fill="#8b87c8"/><text x="1732" y="131">&lt;a0.1_k&gt;</text></g>
<g id="n-a0_1_v" class="nd"><rect x="1813" y="101" width="114" height="48" rx="14" fill="#11582e"/><text x="1870" y="131">&lt;a0.1_v&gt;</text></g>
<g id="n-a0_1_q" class="nd"><rect x="1953" y="101" width="114" height="48" rx="14" fill="#21105c"/><text x="2010" y="131">&lt;a0.1_q&gt;</text></g>
<g id="n-a0_2_v" class="nd"><rect x="2093" y="101" width="114" height="48" rx="14" fill="#9b29b6"/><text x="2150" y="131">&lt;a0.2_v&gt;</text></g>
<g id="n-a0_2_k" class="nd"><rect x="2232" y="101" width="114" height="48" rx="14" fill="#c66cf2"/><text x="2289" y="131">&lt;a0.2_k&gt;</text></g>
<g id="n-a0_3_q" class="nd"><rect x="2423" y="101" width="114" height="48" rx="14" fill="#237f8b"/><text x="2480" y="131">&lt;a0.3_q&gt;</text></g>
<g id="n-a2_2_v" class="nd"><rect x="144" y="197" width="114" height="48" rx="14" fill="#10b898"/><text x="201" y="227">&lt;a2.2_v&gt;</text></g>
<g id="n-a0_5" class="nd"><rect x="923" y="197" width="94" height="48" rx="14" fill="#704686"/><text x="970" y="227">&lt;a0.5&gt;</text></g>
<g id="n-a0_0" class="nd"><rect x="1486" y="197" width="94" height="48" rx="14" fill="#c8946a"/><text x="1533" y="227">&lt;a0.0&gt;</text></g>
<g id="n-a0_1" class="nd"><rect x="1859" y="197" width="94" height="48" rx="14" fill="#2b9a38"/><text x="1906" y="227">&lt;a0.1&gt;</text></g>
<g id="n-a0_7" class="nd"><rect x="2001" y="197" width="94" height="48" rx="14" fill="#e072a4"/><text x="2048" y="227">&lt;a0.7&gt;</text></g>
<g id="n-a0_2" class="nd"><rect x="2166" y="197" width="94" height="48" rx="14" fill="#27d3b5"/><text x="2213" y="227">&lt;a0.2&gt;</text></g>
<g id="n-a0_3" class="nd"><rect x="2428" y="197" width="94" height="48" rx="14" fill="#c7304f"/><text x="2475" y="227">&lt;a0.3&gt;</text></g>
<g id="n-a3_5_v" class="nd"><rect x="3503" y="197" width="114" height="48" rx="14" fill="#982609"/><text x="3560" y="227">&lt;a3.5_v&gt;</text></g>
<g id="n-a1_0_k" class="nd"><rect x="448" y="293" width="114" height="48" rx="14" fill="#d2de68"/><text x="505" y="323">&lt;a1.0_k&gt;</text></g>
<g id="n-a1_0_v" class="nd"><rect x="688" y="293" width="114" height="48" rx="14" fill="#76b22e"/><text x="745" y="323">&lt;a1.0_v&gt;</text></g>
<g id="n-a1_0_q" class="nd"><rect x="828" y="293" width="114" height="48" rx="14" fill="#58de35"/><text x="885" y="323">&lt;a1.0_q&gt;</text></g>
<g id="n-a2_0_q" class="nd"><rect x="1071" y="293" width="114" height="48" rx="14" fill="#c22878"/><text x="1128" y="323">&lt;a2.0_q&gt;</text></g>
<g id="n-a2_1_k" class="nd"><rect x="1261" y="293" width="114" height="48" rx="14" fill="#adb866"/><text x="1318" y="323">&lt;a2.1_k&gt;</text></g>
<g id="n-a1_4_v" class="nd"><rect x="1603" y="293" width="114" height="48" rx="14" fill="#39bb4b"/><text x="1660" y="323">&lt;a1.4_v&gt;</text></g>
<g id="n-a1_4_q" class="nd"><rect x="1946" y="293" width="114" height="48" rx="14" fill="#ee0c10"/><text x="2003" y="323">&lt;a1.4_q&gt;</text></g>
<g id="n-a1_5_v" class="nd"><rect x="2085" y="293" width="114" height="48" rx="14" fill="#5b1470"/><text x="2142" y="323">&lt;a1.5_v&gt;</text></g>
<g id="n-a1_2_v" class="nd"><rect x="2427" y="293" width="114" height="48" rx="14" fill="#4034aa"/><text x="2484" y="323">&lt;a1.2_v&gt;</text></g>
<g id="n-a1_2_q" class="nd"><rect x="2820" y="293" width="114" height="48" rx="14" fill="#a898b6"/><text x="2877" y="323">&lt;a1.2_q&gt;</text></g>
<g id="n-a1_0" class="nd"><rect x="849" y="389" width="94" height="48" rx="14" fill="#7a5ba9"/><text x="896" y="419">&lt;a1.0&gt;</text></g>
<g id="n-a1_7" class="nd"><rect x="1374" y="389" width="94" height="48" rx="14" fill="#8a82cc"/><text x="1421" y="419">&lt;a1.7&gt;</text></g>
<g id="n-a1_6" class="nd"><rect x="1493" y="389" width="94" height="48" rx="14" fill="#d4f420"/><text x="1540" y="419">&lt;a1.6&gt;</text></g>
<g id="n-a1_3" class="nd"><rect x="1612" y="389" width="94" height="48" rx="14" fill="#2ecf1e"/><text x="1659" y="419">&lt;a1.3&gt;</text></g>
<g id="n-a1_4" class="nd"><rect x="1782" y="389" width="94" height="48" rx="14" fill="#05c85a"/><text x="1829" y="419">&lt;a1.4&gt;</text></g>
<g id="n-a1_5" class="nd"><rect x="1901" y="389" width="94" height="48" rx="14" fill="#f234e4"/><text x="1948" y="419">&lt;a1.5&gt;</text></g>
<g id="n-a1_2" class="nd"><rect x="2437" y="389" width="94" height="48" rx="14" fill="#5f7479"/><text x="2484" y="419">&lt;a1.2&gt;</text></g>
<g id="n-a2_2_q" class="nd"><rect x="567" y="485" width="114" height="48" rx="14" fill="#575061"/><text x="624" y="515">&lt;a2.2_q&gt;</text></g>
<g id="n-a2_0_v" class="nd"><rect x="707" y="485" width="114" height="48" rx="14" fill="#c2f5fa"/><text x="764" y="515">&lt;a2.0_v&gt;</text></g>
<g id="n-a2_0_k" class="nd"><rect x="997" y="485" width="114" height="48" rx="14" fill="#c24cbc"/><text x="1054" y="515">&lt;a2.0_k&gt;</text></g>
<g id="n-a2_6_v" class="nd"><rect x="1136" y="485" width="114" height="48" rx="14" fill="#54ee9c"/><text x="1193" y="515">&lt;a2.6_v&gt;</text></g>
<g id="n-a2_2_k" class="nd"><rect x="1275" y="485" width="114" height="48" rx="14" fill="#d68034"/><text x="1332" y="515">&lt;a2.2_k&gt;</text></g>
<g id="n-a2_1_q" class="nd"><rect x="1668" y="485" width="114" height="48" rx="14" fill="#24d41c"/><text x="1725" y="515">&lt;a2.1_q&gt;</text></g>
<g id="n-a2_7_v" class="nd"><rect x="1909" y="485" width="114" height="48" rx="14" fill="#3c3cfc"/><text x="1966" y="515">&lt;a2.7_v&gt;</text></g>
<g id="n-a2_1_v" class="nd"><rect x="2099" y="485" width="114" height="48" rx="14" fill="#fc3442"/><text x="2156" y="515">&lt;a2.1_v&gt;</text></g>
<g id="n-a2_5_v" class="nd"><rect x="2238" y="485" width="114" height="48" rx="14" fill="#3c8c44"/><text x="2295" y="515">&lt;a2.5_v&gt;</text></g>
<g id="n-a2_3_q" class="nd"><rect x="2377" y="485" width="114" height="48" rx="14" fill="#0a86f0"/><text x="2434" y="515">&lt;a2.3_q&gt;</text></g>
<g id="n-a2_3_v" class="nd"><rect x="2771" y="485" width="114" height="48" rx="14" fill="#de8880"/><text x="2828" y="515">&lt;a2.3_v&gt;</text></g>
<g id="n-a3_5_k" class="nd"><rect x="3163" y="485" width="114" height="48" rx="14" fill="#52d28e"/><text x="3220" y="515">&lt;a3.5_k&gt;</text></g>
<g id="n-a3_5_q" class="nd"><rect x="3455" y="485" width="114" height="48" rx="14" fill="#1fde0c"/><text x="3512" y="515">&lt;a3.5_q&gt;</text></g>
<g id="n-a2_2" class="nd"><rect x="1243" y="581" width="94" height="48" rx="14" fill="#bb9dd0"/><text x="1290" y="611">&lt;a2.2&gt;</text></g>
<g id="n-a2_0" class="nd"><rect x="1515" y="581" width="94" height="48" rx="14" fill="#5b5a06"/><text x="1562" y="611">&lt;a2.0&gt;</text></g>
<g id="n-a2_6" class="nd"><rect x="1634" y="581" width="94" height="48" rx="14" fill="#cff78c"/><text x="1681" y="611">&lt;a2.6&gt;</text></g>
<g id="n-a2_1" class="nd"><rect x="1804" y="581" width="94" height="48" rx="14" fill="#2cf43b"/><text x="1851" y="611">&lt;a2.1&gt;</text></g>
<g id="n-a2_5" class="nd"><rect x="1924" y="581" width="94" height="48" rx="14" fill="#c4b444"/><text x="1971" y="611">&lt;a2.5&gt;</text></g>
<g id="n-a2_7" class="nd"><rect x="2042" y="581" width="94" height="48" rx="14" fill="#011a04"/><text x="2089" y="611">&lt;a2.7&gt;</text></g>
<g id="n-a2_3" class="nd"><rect x="2264" y="581" width="94" height="48" rx="14" fill="#05f58a"/><text x="2311" y="611">&lt;a2.3&gt;</text></g>
<g id="n-a3_5" class="nd"><rect x="3459" y="581" width="94" height="48" rx="14" fill="#a577e8"/><text x="3506" y="611">&lt;a3.5&gt;</text></g>
<g id="n-a3_6_v" class="nd"><rect x="268" y="677" width="114" height="48" rx="14" fill="#6a12f8"/><text x="325" y="707">&lt;a3.6_v&gt;</text></g>
<g id="n-a3_6_k" class="nd"><rect x="1233" y="677" width="114" height="48" rx="14" fill="#5b9614"/><text x="1290" y="707">&lt;a3.6_k&gt;</text></g>
<g id="n-a3_6_q" class="nd"><rect x="1451" y="677" width="114" height="48" rx="14" fill="#64f47a"/><text x="1508" y="707">&lt;a3.6_q&gt;</text></g>
<g id="n-a3_7_v" class="nd"><rect x="1627" y="677" width="114" height="48" rx="14" fill="#e29414"/><text x="1684" y="707">&lt;a3.7_v&gt;</text></g>
<g id="n-a3_7_q" class="nd"><rect x="1771" y="677" width="114" height="48" rx="14" fill="#93e078"/><text x="1828" y="707">&lt;a3.7_q&gt;</text></g>
<g id="n-a3_7_k" class="nd"><rect x="1911" y="677" width="114" height="48" rx="14" fill="#05ecdc"/><text x="1968" y="707">&lt;a3.7_k&gt;</text></g>
<g id="n-a3_0_q" class="nd"><rect x="2106" y="677" width="114" height="48" rx="14" fill="#f5ebe3"/><text x="2163" y="707">&lt;a3.0_q&gt;</text></g>
<g id="n-a3_0_k" class="nd"><rect x="2348" y="677" width="114" height="48" rx="14" fill="#762836"/><text x="2405" y="707">&lt;a3.0_k&gt;</text></g>
<g id="n-a3_0_v" class="nd"><rect x="3024" y="677" width="114" height="48" rx="14" fill="#a84c98"/><text x="3081" y="707">&lt;a3.0_v&gt;</text></g>
<g id="n-a3_6" class="nd"><rect x="1332" y="773" width="94" height="48" rx="14" fill="#b8a0d6"/><text x="1379" y="803">&lt;a3.6&gt;</text></g>
<g id="n-a3_7" class="nd"><rect x="1850" y="773" width="94" height="48" rx="14" fill="#c010f0"/><text x="1897" y="803">&lt;a3.7&gt;</text></g>
<g id="n-a3_0" class="nd"><rect x="2354" y="773" width="94" height="48" rx="14" fill="#2b2b1c"/><text x="2401" y="803">&lt;a3.0&gt;</text></g>
<g id="n-resid_post" class="nd"><rect x="2283" y="869" width="148" height="48" rx="14" fill="#f538ec"/><text x="2357" y="899">&lt;resid_post&gt;</text></g>
</g>
</svg>
